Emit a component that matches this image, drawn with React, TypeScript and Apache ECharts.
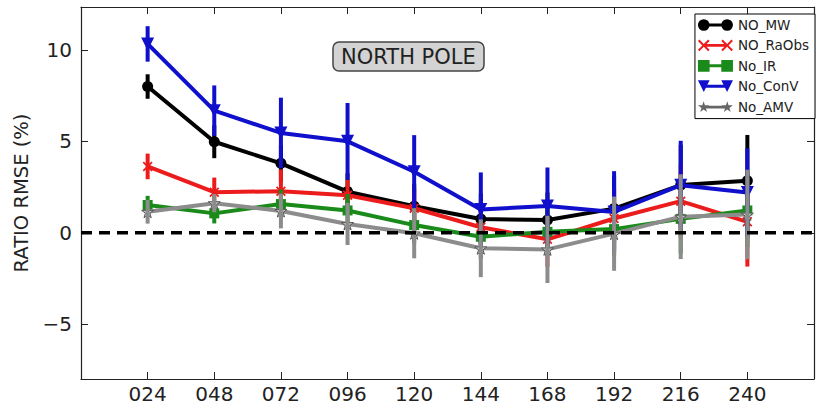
import React, { useEffect, useRef } from "react";
import * as echarts from "echarts";

const hours = [24, 48, 72, 96, 120, 144, 168, 192, 216, 240];
const xMin = 0;
const xMax = 264;
const yMin = -8;
const yMax = 12.35;

const noMW = [8.0, 4.98, 3.8, 2.25, 1.45, 0.75, 0.7, 1.32, 2.61, 2.85];
const noMWErr = [0.67, 0.9, 1.0, 1.0, 1.2, 1.4, 1.5, 1.8, 2.2, 2.5];
const noRaObs = [3.63, 2.22, 2.27, 2.05, 1.34, 0.3, -0.36, 0.78, 1.73, 0.6];
const noRaObsErr = [0.7, 0.8, 1.2, 0.85, 1.1, 1.3, 1.5, 1.7, 2.0, 2.45];
const noIR = [1.52, 1.06, 1.57, 1.22, 0.42, -0.22, 0.05, 0.2, 0.76, 1.22];
const noIRErr = [0.5, 0.55, 0.8, 0.9, 1.0, 1.2, 1.3, 1.5, 1.9, 2.0];
const noConV = [10.33, 6.68, 5.46, 5.0, 3.34, 1.27, 1.47, 1.14, 2.6, 2.2];
const noConVErr = [0.97, 1.38, 1.93, 2.1, 2.0, 2.03, 2.1, 2.23, 2.43, 2.42];
const noAMV = [1.15, 1.62, 1.19, 0.48, -0.03, -0.85, -0.91, -0.05, 0.88, 1.0];
const noAMVErr = [0.65, 0.5, 0.95, 1.15, 1.37, 1.58, 1.84, 2.03, 2.32, 2.45];

const seriesNames = ["NO_MW", "NO_RaObs", "No_IR", "No_ConV", "No_AMV"];
const titleText = "NORTH POLE";
const yTitle = "RATIO RMSE (%)";

const FONT = "DejaVu Sans";

const xShape = (ox: number, s: number) => {
  const k = s / 12;
  const pts = [
    [0, 1.5], [1.5, 0], [6, 4.5], [10.5, 0], [12, 1.5], [7.5, 6],
    [12, 10.5], [10.5, 12], [6, 7.5], [1.5, 12], [0, 10.5], [4.5, 6],
  ];
  return "M" + pts.map((p) => `${ox + p[0] * k},${p[1] * k}`).join("L") + "Z";
};
const starShape = (ox: number, s: number) => {
  const k = s / 100;
  const pts = [
    [50, 0], [61, 35], [98, 35], [68, 57], [79, 91], [50, 70],
    [21, 91], [32, 57], [2, 35], [39, 35],
  ];
  return "M" + pts.map((p) => `${ox + p[0] * k},${p[1] * k}`).join("L") + "Z";
};
const bar = "M6,4.5L30,4.5L30,7.5L6,7.5Z";

const legendIcons = [
  "path://M0,6A6,6,0,1,1,12,6A6,6,0,1,1,0,6ZM24,6A6,6,0,1,1,36,6A6,6,0,1,1,24,6Z" + bar,
  "path://" + xShape(0, 12) + xShape(24, 12) + bar,
  "path://M0,0L12,0L12,12L0,12ZM24,0L36,0L36,12L24,12Z" + bar,
  "path://M0,0L12,0L6,12ZM24,0L36,0L30,12Z" + bar,
  "path://" + starShape(0, 12) + starShape(24, 12) + bar,
];

const colors = ["#000000", "#ec1c1c", "#1a8a1a", "#0f0fcc", "#8c8c8c"];
const legendColors = ["#000000", "#ec1c1c", "#1a8a1a", "#0f0fcc", "#666666"];

export default function App() {
  const ref = useRef<HTMLDivElement>(null);
  useEffect(() => {
    if (!ref.current) return;
    const chart = echarts.init(ref.current, null, { renderer: "svg" });
    const values = [noMW, noRaObs, noIR, noConV, noAMV];
    const errs = [noMWErr, noRaObsErr, noIRErr, noConVErr, noAMVErr];
    const symbols: any[] = [
      { symbol: "circle", symbolSize: 11, itemStyle: { color: "#000" } },
      { symbol: "path://" + xShape(0, 12), symbolSize: 10, itemStyle: { color: colors[1] } },
      { symbol: "rect", symbolSize: 10, itemStyle: { color: colors[2] } },
      { symbol: "triangle", symbolSize: 13, symbolRotate: 180, itemStyle: { color: colors[3] } },
      {
        symbol: "path://" + starShape(0, 100),
        symbolSize: 12,
        itemStyle: { color: "#c8c8c8", borderColor: "#555", borderWidth: 1 },
      },
    ];
    const series: any[] = [];
    seriesNames.forEach((name, i) => {
      series.push({
        name,
        type: "line",
        xAxisIndex: 0,
        yAxisIndex: 0,
        data: hours.map((h, j) => [h, values[i][j]]),
        ...symbols[i],
        showSymbol: true,
        lineStyle: { color: colors[i], width: 4 },
        z: 10 + i * 2,
        emphasis: { disabled: true },
        silent: true,
      });
      series.push({
        name: name + " err",
        type: "custom",
        xAxisIndex: 0,
        yAxisIndex: 0,
        data: hours.map((h, j) => [h, values[i][j] - errs[i][j], values[i][j] + errs[i][j]]),
        encode: { x: 0, y: [1, 2] },
        z: 11 + i * 2,
        silent: true,
        renderItem: (params: any, api: any) => {
          const x = api.value(0);
          const p1 = api.coord([x, api.value(1)]);
          const p2 = api.coord([x, api.value(2)]);
          return {
            type: "line",
            shape: { x1: p1[0], y1: p1[1], x2: p2[0], y2: p2[1] },
            style: { stroke: colors[i], lineWidth: 4 },
          };
        },
      });
    });
    series.push({
      name: "zero",
      type: "line",
      data: [
        [xMin, 0],
        [xMax, 0],
      ],
      symbol: "none",
      lineStyle: { color: "#000", width: 3.5, type: [11, 7] },
      z: 30,
      silent: true,
    });

    const axisColor = "#222";
    const xLabel = (v: number) =>
      v <= xMin || v >= xMax ? "" : String(v).padStart(3, "0");
    const yLabel = (v: number) => {
      if (Math.abs(v % 5) > 1e-6) return "";
      return v < 0 ? "\u2212" + String(-v) : String(v);
    };
    const common = {
      axisLine: { show: true, onZero: false, lineStyle: { color: axisColor, width: 1.2 } },
      axisTick: { show: true, inside: true, length: 7, lineStyle: { color: axisColor, width: 1 } },
      splitLine: { show: false },
    };

    chart.setOption({
      animation: false,
      backgroundColor: "#ffffff",
      title: {
        text: titleText,
        left: 333,
        top: 42,
        padding: [4, 8, 4, 8],
        backgroundColor: "#d3d3d3",
        borderColor: "#444",
        borderWidth: 1.5,
        borderRadius: 6,
        textStyle: { fontSize: 21, fontWeight: "normal", color: "#222", fontFamily: FONT },
      },
      legend: {
        orient: "vertical",
        right: 2,
        top: 14,
        itemWidth: 35,
        itemHeight: 12,
        itemGap: 6.4,
        padding: [4, 6, 5, 3],
        borderColor: "#000",
        borderWidth: 1,
        backgroundColor: "#fff",
        textStyle: { fontSize: 13.5, color: "#222", fontFamily: FONT },
        selectedMode: false,
        data: seriesNames.map((n, i) => ({
          name: n,
          icon: legendIcons[i],
          itemStyle: { color: legendColors[i], borderWidth: 0 },
        })),
        z: 50,
      },
      grid: { left: 81, right: -5, top: 7, bottom: 27, containLabel: false },
      xAxis: [
        {
          type: "value",
          min: xMin,
          max: xMax,
          interval: 24,
          position: "bottom",
          ...common,
          axisLabel: { formatter: xLabel, fontSize: 20, color: axisColor, margin: 5, fontFamily: FONT },
        },
        {
          type: "value",
          min: xMin,
          max: xMax,
          interval: 24,
          position: "top",
          ...common,
          axisLabel: { show: false },
        },
      ],
      yAxis: [
        {
          type: "value",
          min: yMin,
          max: yMax,
          splitNumber: 4,
          position: "left",
          ...common,
          axisLabel: { formatter: yLabel, fontSize: 20, color: axisColor, margin: 9, fontFamily: FONT },
          name: yTitle,
          nameLocation: "middle",
          nameGap: 48,
          nameTextStyle: { fontSize: 19.5, color: axisColor, fontFamily: FONT },
        },
        {
          type: "value",
          min: yMin,
          max: yMax,
          splitNumber: 4,
          position: "right",
          ...common,
          axisLabel: { show: false },
        },
      ],
      series,
    });
    return () => chart.dispose();
  }, []);
  return (
    <div
      ref={ref}
      style={{ position: "fixed", left: 0, top: 0, width: 817, height: 406, background: "#fff" }}
    />
  );
}
